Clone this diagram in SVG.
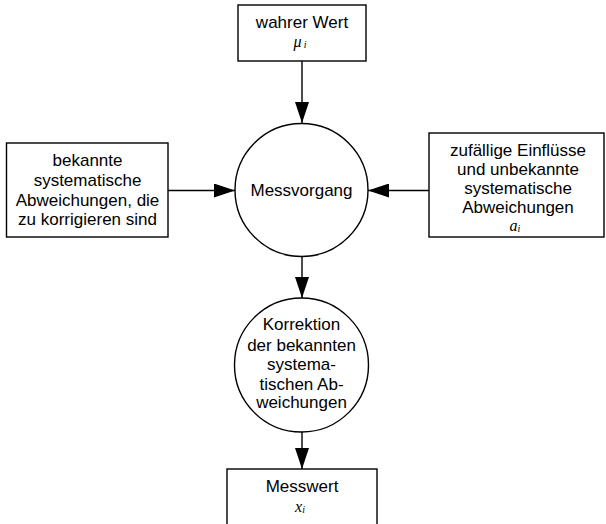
<svg xmlns="http://www.w3.org/2000/svg" width="606" height="524" viewBox="0 0 606 524">
<style>
.box{fill:#fff;stroke:#000;stroke-width:1.4}
.t{font-family:"Liberation Sans",Arial,sans-serif;font-size:17px;fill:#000;text-anchor:middle}
.m{font-family:"Liberation Serif","Times New Roman",serif;font-style:italic;font-size:16px;fill:#000;text-anchor:middle}
.s{font-size:10px}
.ln{stroke:#000;stroke-width:1.4;fill:none}
</style>
<defs>
<marker id="ah" viewBox="0 0 21 14" refX="21" refY="7" markerWidth="21" markerHeight="14" markerUnits="userSpaceOnUse" orient="auto">
<path d="M0,0 L21,7 L0,14 Z" fill="#000"/>
</marker>
</defs>
<g id="connectors">
<line class="ln" x1="302" y1="61" x2="302" y2="123" marker-end="url(#ah)"/>
<line class="ln" x1="168" y1="190.5" x2="235" y2="190.5" marker-end="url(#ah)"/>
<line class="ln" x1="429" y1="190.5" x2="368" y2="190.5" marker-end="url(#ah)"/>
<line class="ln" x1="302" y1="257" x2="302" y2="298" marker-end="url(#ah)"/>
<line class="ln" x1="302" y1="432" x2="302" y2="469" marker-end="url(#ah)"/>
</g>
<g id="wahrerWert">
<rect class="box" x="238" y="5" width="128" height="56"/>
<text class="t" x="302" y="28">wahrer Wert</text>
<text class="m" x="300" y="47">μ<tspan class="s" dx="2" dy="1">i</tspan></text>
</g>
<g id="bekannte">
<rect class="box" x="6.5" y="143" width="161.5" height="94"/>
<text class="t" x="87.5" y="166">bekannte</text>
<text class="t" x="87.5" y="186">systematische</text>
<text class="t" x="87.5" y="206">Abweichungen, die</text>
<text class="t" x="87.5" y="225">zu korrigieren sind</text>
</g>
<g id="messvorgang">
<circle class="box" cx="301.5" cy="190" r="66.5"/>
<text class="t" x="301.5" y="196">Messvorgang</text>
</g>
<g id="zufaellige">
<rect class="box" x="429" y="133" width="175" height="104"/>
<text class="t" x="518" y="156">zufällige Einflüsse</text>
<text class="t" x="518" y="175">und unbekannte</text>
<text class="t" x="518" y="194">systematische</text>
<text class="t" x="518" y="213">Abweichungen</text>
<text class="m" x="515" y="231">a<tspan class="s" dx="0" dy="1">i</tspan></text>
</g>
<g id="korrektion">
<circle class="box" cx="301.5" cy="365" r="67"/>
<text class="t" x="301.5" y="330">Korrektion</text>
<text class="t" x="301.5" y="351">der bekannten</text>
<text class="t" x="301.5" y="370">systema-</text>
<text class="t" x="301.5" y="390">tischen Ab-</text>
<text class="t" x="301.5" y="408">weichungen</text>
</g>
<g id="messwert">
<rect class="box" x="227" y="469" width="150" height="70"/>
<text class="t" x="302" y="492">Messwert</text>
<text class="m" x="300" y="512">x<tspan class="s" dx="0" dy="1">i</tspan></text>
</g>
</svg>
